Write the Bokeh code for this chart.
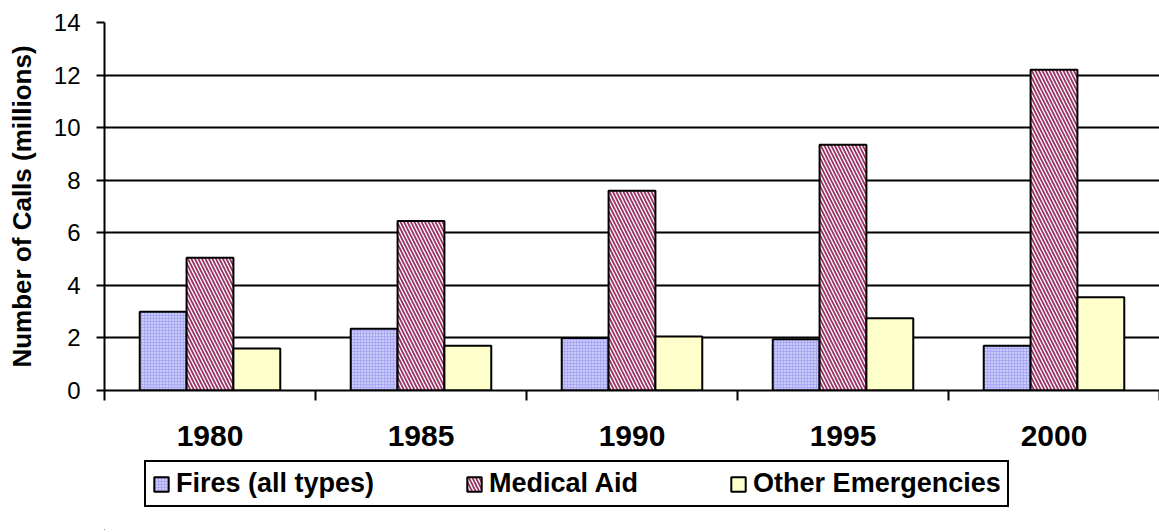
from bokeh.plotting import figure
from bokeh.layouts import column
from bokeh.models import (ColumnDataSource, Range1d, FixedTicker, Legend, LegendItem)
from bokeh.embed import file_html
from bokeh.resources import INLINE

# ---- data ----
years = ["1980", "1985", "1990", "1995", "2000"]
fires = [3.0, 2.35, 2.0, 1.95, 1.7]
medical = [5.05, 6.45, 7.6, 9.35, 12.2]
other = [1.6, 1.7, 2.05, 2.75, 3.55]
series_names = ["Fires (all types)", "Medical Aid", "Other Emergencies"]
y_ticks = [0, 2, 4, 6, 8, 10, 12, 14]

FONT = "Liberation Sans"
bar_w = 0.222
idx = list(range(len(years)))
centers = [i + 0.5 for i in idx]

src = ColumnDataSource(dict(
    x_f=[c - bar_w for c in centers],
    x_m=centers,
    x_o=[c + bar_w for c in centers],
    fires=fires, medical=medical, other=other,
))

STY_F = dict(fill_color="#a8a8f4", hatch_pattern="dot", hatch_color="white",
             hatch_scale=3, hatch_weight=1, line_color="black", line_width=2)
STY_M = dict(fill_color="white", hatch_pattern="left_diagonal_line",
             hatch_color="#993366", hatch_scale=7, hatch_weight=1.8,
             line_color="black", line_width=2)
STY_O = dict(fill_color="#ffffcc", line_color="black", line_width=2)

p = figure(width=1159, height=456, output_backend="svg", toolbar_location=None,
           x_range=Range1d(0, len(years)), y_range=Range1d(0, 14),
           min_border_top=22, min_border_left=104, min_border_right=0,
           min_border_bottom=66)
p.outline_line_color = None
p.background_fill_color = "white"

p.vbar(x="x_f", top="fires", width=bar_w, source=src, **STY_F)
p.vbar(x="x_m", top="medical", width=bar_w, source=src, **STY_M)
p.vbar(x="x_o", top="other", width=bar_w, source=src, **STY_O)

# grid
p.xgrid.visible = False
p.ygrid.ticker = FixedTicker(ticks=y_ticks)
p.ygrid.grid_line_color = "black"
p.ygrid.grid_line_width = 2

# y axis
ya = p.yaxis[0]
ya.ticker = FixedTicker(ticks=y_ticks)
ya.axis_label = "Number of Calls (millions)"
ya.axis_label_text_font = FONT
ya.axis_label_text_font_style = "bold"
ya.axis_label_text_font_size = "26px"
ya.axis_label_text_color = "black"
ya.axis_label_standoff = 14
ya.major_label_text_font = FONT
ya.major_label_text_font_size = "24px"
ya.major_label_text_color = "black"
ya.major_label_standoff = 16
ya.major_tick_in = 0
ya.major_tick_out = 8
ya.major_tick_line_width = 2
ya.minor_tick_line_color = None
ya.axis_line_width = 2
ya.axis_line_color = "black"

# x axis
xa = p.xaxis[0]
xa.ticker = FixedTicker(ticks=centers, minor_ticks=list(range(len(years) + 1)))
xa.major_label_overrides = {c: y for c, y in zip(centers, years)}
xa.major_label_text_font = FONT
xa.major_label_text_font_style = "bold"
xa.major_label_text_font_size = "30px"
xa.major_label_text_color = "black"
xa.major_label_standoff = 25
xa.major_tick_line_color = None
xa.major_tick_in = 0
xa.major_tick_out = 0
xa.minor_tick_in = 0
xa.minor_tick_out = 10
xa.minor_tick_line_width = 2
xa.minor_tick_line_color = "black"
xa.axis_line_width = 2
xa.axis_line_color = "black"

# ---- legend strip (separate figure below the chart) ----
pl = figure(width=1159, height=74, output_backend="svg", toolbar_location=None,
            x_range=Range1d(0, 1), y_range=Range1d(10, 11),
            x_axis_location=None, y_axis_location=None,
            min_border=0)
pl.outline_line_color = None
pl.grid.visible = False
# legend swatches: zero-height bars placed well outside the visible ranges
swatch = ColumnDataSource(dict(x=[-10], top=[0]))
l_f = pl.vbar(x="x", top="top", width=0.1, source=swatch, **STY_F)
l_m = pl.vbar(x="x", top="top", width=0.1, source=swatch, **STY_M)
l_o = pl.vbar(x="x", top="top", width=0.1, source=swatch, **STY_O)

legend = Legend(items=[LegendItem(label=series_names[0], renderers=[l_f]),
                       LegendItem(label=series_names[1], renderers=[l_m]),
                       LegendItem(label=series_names[2], renderers=[l_o])],
                orientation="horizontal", location=(40, 23))
legend.label_text_font = FONT
legend.label_text_font_style = "bold"
legend.label_text_font_size = "27px"
legend.label_text_color = "black"
legend.spacing = 91
legend.glyph_width = 18
legend.glyph_height = 18
legend.label_standoff = 6
legend.padding = 6
legend.margin = 0
legend.border_line_color = "black"
legend.border_line_alpha = 1
legend.border_line_width = 2
legend.background_fill_color = "white"
legend.background_fill_alpha = 1
pl.add_layout(legend, "center")

layout = column(p, pl, spacing=0)
open("out.html", "w").write(file_html(layout, INLINE))
